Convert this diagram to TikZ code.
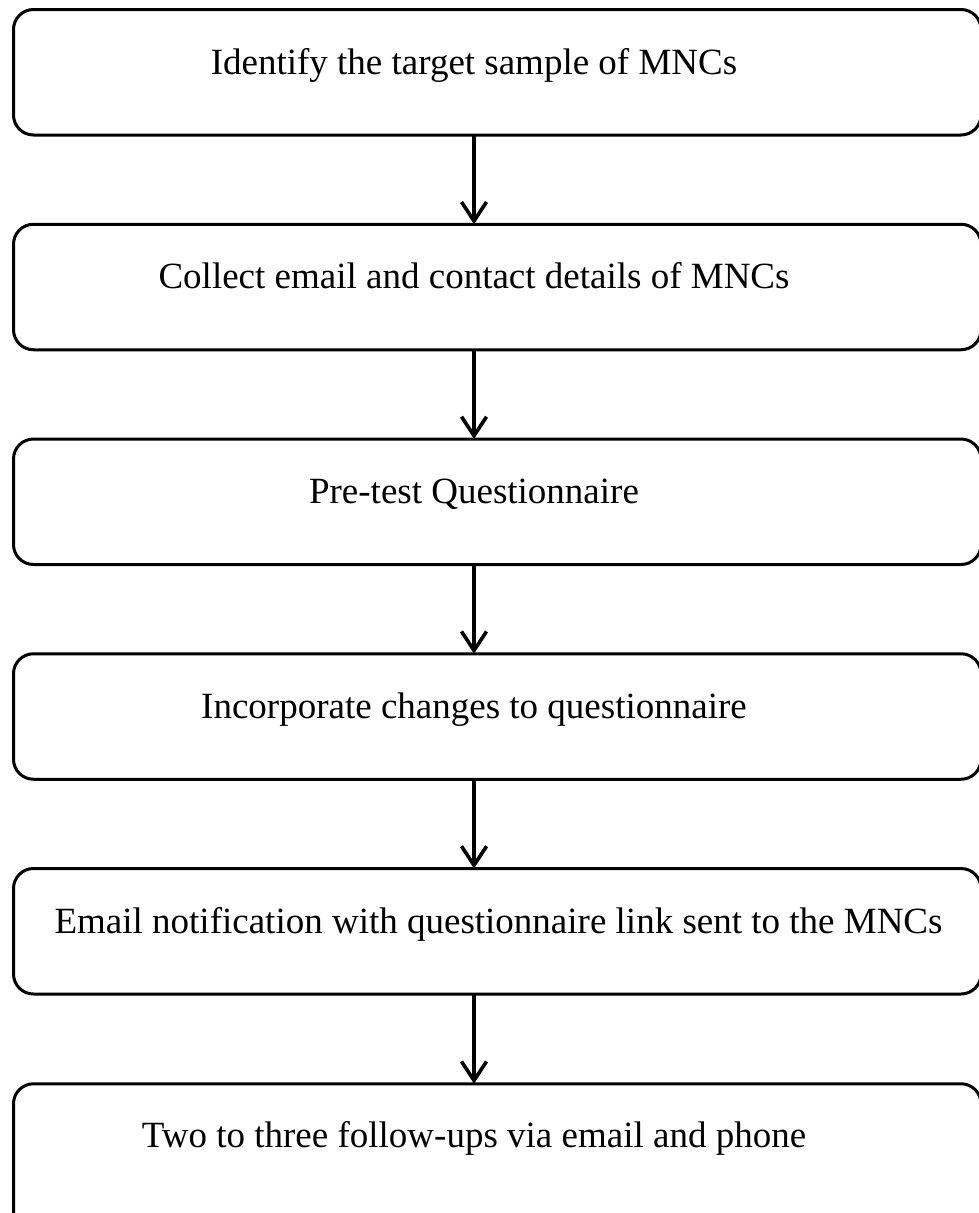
\documentclass[tikz,border=0pt]{standalone}
\usepackage{fontspec}
\setmainfont{Liberation Serif}
\usetikzlibrary{arrows.meta}
\begin{document}
\begin{tikzpicture}[x=1pt,y=-1pt,
  stepbox/.style={draw=black, line width=3pt, rounded corners=20pt, outer sep=0pt,
    inner sep=0pt, minimum width=967.5pt, minimum height=125.5pt},
  lastbox/.style={stepbox, minimum height=170pt},
  label/.style={anchor=base, inner sep=0pt, font=\fontsize{37}{44}\selectfont},
  arr/.style={line width=3.6pt, -{Straight Barb[length=19pt,width=25pt,line width=3.6pt]}}]
\clip (0,0) rectangle (979,1213);
\path[fill=white] (0,0) rectangle (979,1213);
% arrow column
\coordinate (ax) at (474,0);
% boxes (top line centres at 9.5 + k*214.75)
\node[stepbox] (b1) at (497.25,72.25) {};
\node[stepbox] (b2) at (497.25,287) {};
\node[stepbox] (b3) at (497.25,501.75) {};
\node[stepbox] (b4) at (497.25,716.5) {};
\node[stepbox] (b5) at (497.25,931.25) {};
\node[lastbox] (b6) at (497.25,1168.75) {};
% labels
\node[label] (t1) at (474,74) {Identify the target sample of MNCs};
\node[label] (t2) at (474,288.75) {Collect email and contact details of MNCs};
\node[label] (t3) at (474,503.5) {Pre-test Questionnaire};
\node[label] (t4) at (474,718.25) {Incorporate changes to questionnaire};
\node[label] (t5) at (498.5,933) {Email notification with questionnaire link sent to the MNCs};
\node[label] (t6) at (474,1147.75) {Two to three follow-ups via email and phone};
% arrows
\draw[arr] (b1.south -| ax) -- (b2.north -| ax);
\draw[arr] (b2.south -| ax) -- (b3.north -| ax);
\draw[arr] (b3.south -| ax) -- (b4.north -| ax);
\draw[arr] (b4.south -| ax) -- (b5.north -| ax);
\draw[arr] (b5.south -| ax) -- (b6.north -| ax);
\end{tikzpicture}
\end{document}
